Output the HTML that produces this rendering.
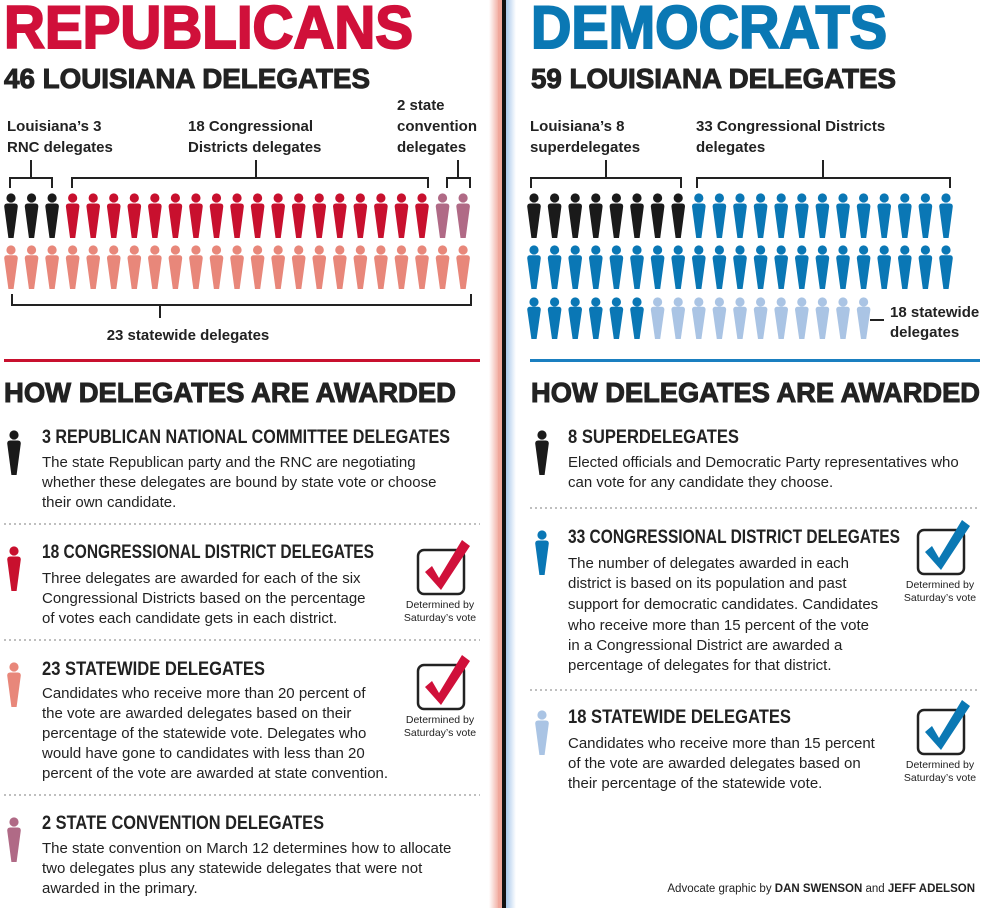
<!DOCTYPE html>
<html><head><meta charset="utf-8"><style>
html,body{margin:0;padding:0;background:#fff}
svg{display:block}
text{font-family:"Liberation Sans",sans-serif}
.h{font-weight:bold;fill:#222;stroke:#222;stroke-width:1}
.lab{font-weight:bold;font-size:15px;fill:#222}
.st{font-weight:bold;font-size:19px;fill:#222}
.bd{font-size:15px;fill:#222}
.sm{font-size:10.5px;fill:#222}
</style></head><body>
<svg id="chart" width="990" height="908" viewBox="0 0 990 908" xmlns="http://www.w3.org/2000/svg">
<defs>
<linearGradient id="pg" x1="0" x2="1"><stop offset="0" stop-color="#fff"/><stop offset="1" stop-color="#f2b3a8"/></linearGradient>
<linearGradient id="bg" x1="0" x2="1"><stop offset="0" stop-color="#a9c8ea"/><stop offset="1" stop-color="#fff"/></linearGradient>
</defs>
<g>
<rect x="489" y="0" width="9" height="908" fill="url(#pg)"/>
<rect x="498" y="0" width="4" height="908" fill="#f0a89c"/>
<rect x="502" y="0" width="4" height="908" fill="#111"/>
<rect x="506" y="0" width="10" height="908" fill="url(#bg)"/>
</g>

<text x="4" y="48" font-size="60" font-weight="bold" fill="#d0103a" stroke="#d0103a" stroke-width="2" textLength="409" lengthAdjust="spacingAndGlyphs">REPUBLICANS</text>
<text x="531" y="48" font-size="60" font-weight="bold" fill="#0a78b4" stroke="#0a78b4" stroke-width="2" textLength="356" lengthAdjust="spacingAndGlyphs">DEMOCRATS</text>
<text class="h" x="4" y="88" font-size="28" textLength="366" lengthAdjust="spacingAndGlyphs">46 LOUISIANA DELEGATES</text>
<text class="h" x="531" y="88" font-size="28" textLength="365" lengthAdjust="spacingAndGlyphs">59 LOUISIANA DELEGATES</text>

<g>
<text class="lab" x="7" y="131">Louisiana’s 3</text><text class="lab" x="7" y="152">RNC delegates</text>
<text class="lab" x="188" y="131">18 Congressional</text><text class="lab" x="188" y="152">Districts delegates</text>
<text class="lab" x="397" y="110">2 state</text><text class="lab" x="397" y="131">convention</text><text class="lab" x="397" y="152">delegates</text>
<text class="lab" x="188" y="340" text-anchor="middle">23 statewide delegates</text>
</g>
<g>
<text class="lab" x="530" y="131">Louisiana’s 8</text><text class="lab" x="530" y="152">superdelegates</text>
<text class="lab" x="696" y="131">33 Congressional Districts</text><text class="lab" x="696" y="152">delegates</text>
<text class="lab" x="890" y="317">18 statewide</text><text class="lab" x="890" y="337">delegates</text>
</g>
<g stroke="#222" stroke-width="2" fill="none">
<path d="M10 188V178H52V188M31 178V160"/>
<path d="M72 188V178H428V188M256 178V160"/>
<path d="M447 188V178H470V188M458 178V160"/>
<path d="M12 294V305H471V294M160 305V318"/>
<path d="M531 188V178H681V188M606 178V160"/>
<path d="M697 188V178H950V188M823 178V160"/>
<path d="M870 320H884"/>
</g>
<g id="icons"></g>

<rect x="4" y="359" width="476" height="3" fill="#c8102e"/>
<rect x="530" y="359" width="450" height="3" fill="#1a7fc0"/>
<text class="h" x="4" y="402" font-size="28" textLength="452" lengthAdjust="spacingAndGlyphs">HOW DELEGATES ARE AWARDED</text>
<text class="h" x="531" y="402" font-size="28" textLength="449" lengthAdjust="spacingAndGlyphs">HOW DELEGATES ARE AWARDED</text>

<g stroke="#999" stroke-width="1.3" stroke-dasharray="2 3">
<path d="M4 524H480M4 640H480M4 795H480M530 508H980M530 690H980"/>
</g>

<g>
<text class="st" x="42" y="443" textLength="408" lengthAdjust="spacingAndGlyphs">3 REPUBLICAN NATIONAL COMMITTEE DELEGATES</text>
<text class="bd" x="42" y="467">The state Republican party and the RNC are negotiating</text>
<text class="bd" x="42" y="487">whether these delegates are bound by state vote or choose</text>
<text class="bd" x="42" y="507">their own candidate.</text>
</g>
<g>
<text class="st" x="42" y="558" textLength="332" lengthAdjust="spacingAndGlyphs">18 CONGRESSIONAL DISTRICT DELEGATES</text>
<text class="bd" x="42" y="583">Three delegates are awarded for each of the six</text>
<text class="bd" x="42" y="603">Congressional Districts based on the percentage</text>
<text class="bd" x="42" y="623">of votes each candidate gets in each district.</text>
</g>
<g>
<text class="st" x="42" y="675" textLength="223" lengthAdjust="spacingAndGlyphs">23 STATEWIDE DELEGATES</text>
<text class="bd" x="42" y="698">Candidates who receive more than 20 percent of</text>
<text class="bd" x="42" y="718">the vote are awarded delegates based on their</text>
<text class="bd" x="42" y="738">percentage of the statewide vote. Delegates who</text>
<text class="bd" x="42" y="758">would have gone to candidates with less than 20</text>
<text class="bd" x="42" y="778">percent of the vote are awarded at state convention.</text>
</g>
<g>
<text class="st" x="42" y="829" textLength="282" lengthAdjust="spacingAndGlyphs">2 STATE CONVENTION DELEGATES</text>
<text class="bd" x="42" y="853">The state convention on March 12 determines how to allocate</text>
<text class="bd" x="42" y="873">two delegates plus any statewide delegates that were not</text>
<text class="bd" x="42" y="893">awarded in the primary.</text>
</g>
<g>
<text class="st" x="568" y="443" textLength="171" lengthAdjust="spacingAndGlyphs">8 SUPERDELEGATES</text>
<text class="bd" x="568" y="467">Elected officials and Democratic Party representatives who</text>
<text class="bd" x="568" y="487">can vote for any candidate they choose.</text>
</g>
<g>
<text class="st" x="568" y="543" textLength="332" lengthAdjust="spacingAndGlyphs">33 CONGRESSIONAL DISTRICT DELEGATES</text>
<text class="bd" x="568" y="568">The number of delegates awarded in each</text>
<text class="bd" x="568" y="588">district is based on its population and past</text>
<text class="bd" x="568" y="609">support for democratic candidates. Candidates</text>
<text class="bd" x="568" y="630">who receive more than 15 percent of the vote</text>
<text class="bd" x="568" y="650">in a Congressional District are awarded a</text>
<text class="bd" x="568" y="670">percentage of delegates for that district.</text>
</g>
<g>
<text class="st" x="568" y="723" textLength="223" lengthAdjust="spacingAndGlyphs">18 STATEWIDE DELEGATES</text>
<text class="bd" x="568" y="748">Candidates who receive more than 15 percent</text>
<text class="bd" x="568" y="768">of the vote are awarded delegates based on</text>
<text class="bd" x="568" y="788">their percentage of the statewide vote.</text>
</g>
<g id="checks"></g>
<text x="975" y="892" font-size="11.5" fill="#222" text-anchor="end">Advocate graphic by <tspan font-weight="bold">DAN SWENSON</tspan> and <tspan font-weight="bold">JEFF ADELSON</tspan></text>
</svg>
<script>
// delegate counts per row, per colour group
const repRow1Groups = [3, 18, 2];
const repRow2Groups = [23];
const demRow1Groups = [8, 13];
const demRow2Groups = [21];
const demRow3Groups = [6, 11];
const NS = "http://www.w3.org/2000/svg";
const iconG = document.getElementById('icons');
function person(cx, top, h, color, parent) {
  const p = document.createElementNS(NS, 'path');
  const s = h / 45;
  const d = `M${cx-4.6} ${top+5} a4.6 4.6 0 1 0 9.2 0 a4.6 4.6 0 1 0 -9.2 0Z` +
    `M${cx-6.8} ${top+13.5*s} Q${cx-6.8} ${top+10.5*s} ${cx-3.8} ${top+10.5*s} L${cx+3.8} ${top+10.5*s} Q${cx+6.8} ${top+10.5*s} ${cx+6.8} ${top+13.5*s} L${cx+2.6} ${top+h} L${cx-2.6} ${top+h} Z`;
  p.setAttribute('d', d);
  p.setAttribute('fill', color);
  
  
  parent.appendChild(p);
}
function row(groups, colors, x0, pitch, top, h) {
  let i = 0;
  groups.forEach((n, g) => {
    for (let k = 0; k < n; k++) { person(x0 + i * pitch, top, h, colors[g], iconG); i++; }
  });
}
row(repRow1Groups, ['#1a1a1a', '#c8102e', '#b06a86'], 11, 20.55, 193, 45);
row(repRow2Groups, ['#e8877a'], 11, 20.55, 245, 44);
row(demRow1Groups, ['#1a1a1a', '#0a77b5'], 534, 20.6, 193, 45);
row(demRow2Groups, ['#0a77b5'], 534, 20.6, 245, 44);
row(demRow3Groups, ['#0a77b5', '#aac4e4'], 534, 20.6, 297, 42);

[[14, 430, '#1a1a1a'], [14, 546, '#c8102e'], [14, 662, '#e8877a'], [14, 817, '#b06a86'],
 [542, 430, '#1a1a1a'], [542, 530, '#0a77b5'], [542, 710, '#aac4e4']].forEach(a => person(a[0], a[1], 45, a[2], iconG));

const chk = document.getElementById('checks');


[[418, 550, '#d0103a'], [418, 665, '#d0103a'], [918, 530, '#0a78b4'], [918, 710, '#0a78b4']].forEach(a => {
  const [x, y, c] = a;
  const g = document.createElementNS(NS, 'g');
  
  
  g.innerHTML = `<rect x="${x}" y="${y}" width="46" height="44" rx="6" fill="#fff" stroke="#222" stroke-width="2.5"/>` +
    `<path d="M${x+7} ${y+22} L${x+14} ${y+16} L${x+21} ${y+28} L${x+44} ${y-10} L${x+52} ${y-4} L${x+23} ${y+40} Z" fill="${c}"/>` +
    `<text class="sm" x="${x+22}" y="${y+58}" text-anchor="middle">Determined by</text>` +
    `<text class="sm" x="${x+22}" y="${y+71}" text-anchor="middle">Saturday’s vote</text>`;
  chk.appendChild(g);
});
</script>
</body></html>
